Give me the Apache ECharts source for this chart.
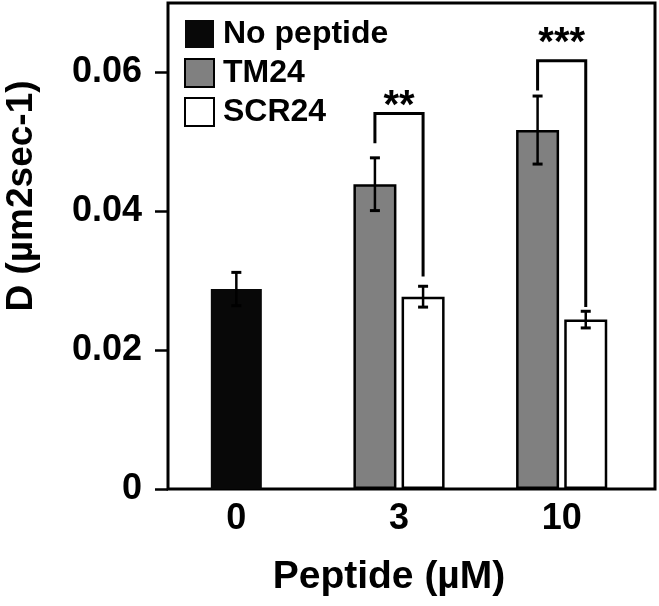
<!DOCTYPE html>
<html><head><meta charset="utf-8">
<script src="https://cdn.jsdelivr.net/npm/echarts@6/dist/echarts.min.js"></script>
<style>html,body{margin:0;padding:0;background:#fff}#c{width:659px;height:606px}</style>
</head><body><div id="c"></div>
<script>
// ---- data ----
const categories = ['0', '3', '10'];
const seriesNames = ['No peptide', 'TM24', 'SCR24'];
const noPeptide = [0.0288, null, null];
const noPeptideErr = [0.0024, null, null];
const tm24 = [null, 0.0439, 0.0517];
const tm24Err = [null, 0.0038, 0.0049];
const scr24 = [null, 0.0277, 0.0244];
const scr24Err = [null, 0.0015, 0.0012];
const yTicks = [0, 0.02, 0.04, 0.06];
const yMax = 0.07;
const xTitle = 'Peptide (µM)';
const yTitle = 'D (µm2sec-1)';
// significance brackets
const sigCats = [1, 2];
const sigTop = [0.0541, 0.0617];
const sigLeftEnd = [0.0498, 0.0574];
const sigRightEnd = [0.0306, 0.0262];
const sigStarY = [0.0563, 0.0653];
const sigLabels = ['**', '***'];

// ---- styling / layout ----
const FONT = '"Liberation Sans", Arial, sans-serif';
const BAR_W = 43, BAR_GAP = 0.12, BLACK_W = 51;
const PAIR_OFF = BAR_W * (1 + BAR_GAP) / 2;
const STAR_SIZE = 40;

function errSeries(xIdx, vals, errs, offset) {
  const data = [];
  vals.forEach((v, i) => { if (v != null) data.push([i, v, errs[i]]); });
  return {
    type: 'custom', xAxisIndex: xIdx, yAxisIndex: 0, z: 5, silent: true,
    data,
    renderItem(params, api) {
      const c = api.value(0), v = api.value(1), e = api.value(2);
      const x = api.coord([c, v])[0] + offset;
      const y1 = api.coord([c, v + e])[1], y2 = api.coord([c, v - e])[1];
      const hw = 5;
      return { type: 'group', children: [
        { type: 'line', shape: { x1: x, y1: y1, x2: x, y2: y2 }, style: { stroke: '#000', lineWidth: 2.5 } },
        { type: 'line', shape: { x1: x - hw, y1: y1, x2: x + hw, y2: y1 }, style: { stroke: '#000', lineWidth: 3 } },
        { type: 'line', shape: { x1: x - hw, y1: y2, x2: x + hw, y2: y2 }, style: { stroke: '#000', lineWidth: 3 } }
      ]};
    }
  };
}

const chart = echarts.init(document.getElementById('c'), null, { renderer: 'canvas' });
chart.setOption({
  animation: false,
  backgroundColor: '#fff',
  textStyle: { fontFamily: FONT },
  grid: [
    { left: 155, right: 16, top: 3, bottom: 117 },
    { left: 168, right: 4, top: 3, bottom: 117, show: true, borderColor: '#000', borderWidth: 3, backgroundColor: 'transparent' }
  ],
  legend: {
    data: seriesNames, orient: 'vertical', left: 184, top: 18, padding: 0,
    itemWidth: 29, itemHeight: 28, itemGap: 7, icon: 'rect', selectedMode: false,
    textStyle: { fontFamily: FONT, fontWeight: 'bold', fontSize: 32, lineHeight: 30, color: '#000', padding: [0, 0, 0, 4] }
  },
  xAxis: [
    { gridIndex: 0, type: 'category', data: categories,
      axisLine: { show: false }, axisTick: { show: false },
      axisLabel: { fontFamily: FONT, fontWeight: 'bold', fontSize: 36, color: '#000', margin: 12 } },
    { gridIndex: 0, type: 'category', data: categories, show: false },
    { gridIndex: 1, type: 'category', data: categories, show: false }
  ],
  yAxis: [
    { gridIndex: 0, type: 'value', min: 0, max: yMax, show: false },
    { gridIndex: 1, type: 'value', min: 0, max: yMax,
      axisLine: { show: false }, splitLine: { show: false },
      axisTick: { show: true, inside: false, length: 13, customValues: yTicks, lineStyle: { color: '#000', width: 2.5 } },
      axisLabel: { customValues: yTicks, formatter: v => String(v), fontFamily: FONT, fontWeight: 'bold', fontSize: 36, color: '#000', margin: 26 } }
  ],
  series: [
    { name: seriesNames[0], type: 'bar', xAxisIndex: 0, yAxisIndex: 0, data: noPeptide, barWidth: BLACK_W,
      itemStyle: { color: '#080808' } },
    { name: seriesNames[1], type: 'bar', xAxisIndex: 1, yAxisIndex: 0, data: tm24, barWidth: BAR_W, barGap: (BAR_GAP * 100) + '%',
      itemStyle: { color: '#808080', borderColor: '#000', borderWidth: 2.5 } },
    { name: seriesNames[2], type: 'bar', xAxisIndex: 1, yAxisIndex: 0, data: scr24, barWidth: BAR_W, barGap: (BAR_GAP * 100) + '%',
      itemStyle: { color: '#ffffff', borderColor: '#000', borderWidth: 2.5 } },
    errSeries(0, noPeptide, noPeptideErr, 0),
    errSeries(1, tm24, tm24Err, -PAIR_OFF),
    errSeries(1, scr24, scr24Err, PAIR_OFF),
    {
      type: 'custom', xAxisIndex: 1, yAxisIndex: 0, z: 6, silent: true,
      data: sigCats.map((c, i) => [c, sigTop[i], sigLeftEnd[i], sigRightEnd[i], sigStarY[i]]),
      renderItem(params, api) {
        const c = api.value(0);
        const xc = api.coord([c, 0])[0];
        const xl = xc - PAIR_OFF, xr = xc + PAIR_OFF;
        const yt = api.coord([c, api.value(1)])[1];
        const yl = api.coord([c, api.value(2)])[1];
        const yr = api.coord([c, api.value(3)])[1];
        const ys = api.coord([c, api.value(4)])[1];
        return { type: 'group', children: [
          { type: 'polyline', shape: { points: [[xl, yl], [xl, yt], [xr, yt], [xr, yr]] },
            style: { stroke: '#000', lineWidth: 3, fill: null, lineJoin: 'miter' } },
          { type: 'text', x: xc, y: ys + STAR_SIZE * 0.22,
            style: { text: sigLabels[params.dataIndex], font: 'bold ' + STAR_SIZE + 'px ' + FONT, fill: '#000',
              align: 'center', verticalAlign: 'middle', textAlign: 'center', textVerticalAlign: 'middle' } }
        ]};
      }
    }
  ],
  graphic: [
    { type: 'text', x: 22, y: 196, rotation: Math.PI / 2,
      style: { text: yTitle, font: 'bold 37px ' + FONT, fill: '#000', align: 'center', verticalAlign: 'middle', textAlign: 'center', textVerticalAlign: 'middle' } },
    { type: 'text', x: 389, y: 577,
      style: { text: xTitle, font: 'bold 39px ' + FONT, fill: '#000', align: 'center', verticalAlign: 'middle', textAlign: 'center', textVerticalAlign: 'middle' } }
  ]
});
</script>
</body></html>
